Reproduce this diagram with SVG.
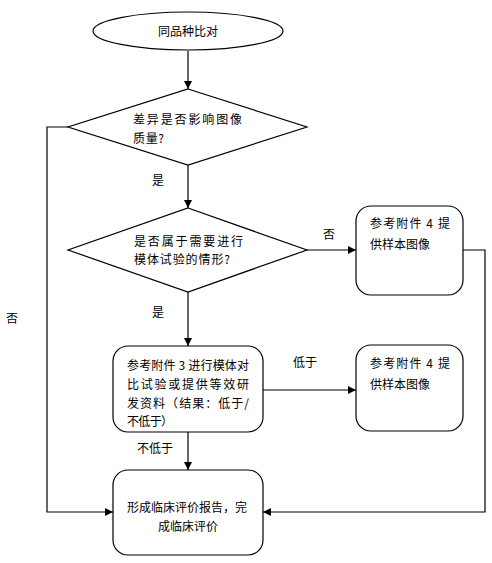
<svg xmlns="http://www.w3.org/2000/svg" width="492" height="563" viewBox="0 0 492 563">
<defs>
<marker id="arr" markerWidth="8" markerHeight="8" refX="8" refY="4" orient="auto" markerUnits="userSpaceOnUse">
<path d="M0,0 L8,4 L0,8 Z" fill="#000"/>
</marker>
</defs>
<style>
.shape{fill:#fff;stroke:#000;stroke-width:1.2}
.line{fill:none;stroke:#000;stroke-width:1.2}
text{font-family:"Noto Sans CJK SC","Liberation Sans",sans-serif;font-size:12px;fill:#000}
</style>
<rect width="492" height="563" fill="#fff"/>
<g id="connectors">
<line class="line" x1="188" y1="51" x2="188" y2="89" marker-end="url(#arr)"/>
<line class="line" x1="188" y1="165" x2="188" y2="208" marker-end="url(#arr)"/>
<line class="line" x1="188" y1="292" x2="188" y2="346" marker-end="url(#arr)"/>
<line class="line" x1="307" y1="250" x2="356" y2="250" marker-end="url(#arr)"/>
<line class="line" x1="263" y1="390" x2="356" y2="390" marker-end="url(#arr)"/>
<line class="line" x1="188" y1="432" x2="188" y2="470" marker-end="url(#arr)"/>
<polyline class="line" points="68,127 47,127 47,512 113,512" marker-end="url(#arr)"/>
<polyline class="line" points="463,250 485,250 485,512 263,512" marker-end="url(#arr)"/>
<text x="152" y="185">是</text>
<text x="152" y="317">是</text>
<text x="323" y="239">否</text>
<text x="293" y="367">低于</text>
<text x="137" y="453">不低于</text>
<text x="6" y="323">否</text>
</g>
<g id="start">
<ellipse class="shape" cx="188" cy="31" rx="95" ry="19"/>
<text x="188" y="36" text-anchor="middle">同品种比对</text>
</g>
<g id="decision1">
<polygon class="shape" points="188,89 307,127 188,165 68,127"/>
<text x="133" y="124" textLength="109" lengthAdjust="spacing">差异是否影响图像</text>
<text x="133" y="143" textLength="31" lengthAdjust="spacing">质量?</text>
</g>
<g id="decision2">
<polygon class="shape" points="188,208 307,250 188,292 68,250"/>
<text x="134" y="246" textLength="109" lengthAdjust="spacing">是否属于需要进行</text>
<text x="134" y="264" textLength="96" lengthAdjust="spacing">模体试验的情形?</text>
</g>
<g id="sample1">
<rect class="shape" x="356" y="206" width="107" height="89" rx="15"/>
<text x="370" y="228" textLength="80" lengthAdjust="spacing">参考附件 4 提</text>
<text x="370" y="249" textLength="60" lengthAdjust="spacing">供样本图像</text>
</g>
<g id="phantom">
<rect class="shape" x="113" y="346" width="150" height="86" rx="15"/>
<text x="127" y="370" textLength="122" lengthAdjust="spacing">参考附件 3 进行模体对</text>
<text x="127" y="389" textLength="122" lengthAdjust="spacing">比试验或提供等效研</text>
<text x="127" y="408" textLength="122" lengthAdjust="spacing">发资料（结果：低于/</text>
<text x="127" y="426" textLength="46" lengthAdjust="spacing">不低于）</text>
</g>
<g id="sample2">
<rect class="shape" x="356" y="345" width="107" height="86" rx="15"/>
<text x="370" y="368" textLength="80" lengthAdjust="spacing">参考附件 4 提</text>
<text x="370" y="389" textLength="60" lengthAdjust="spacing">供样本图像</text>
</g>
<g id="report">
<rect class="shape" x="113" y="470" width="150" height="85" rx="15"/>
<text x="127" y="512">形成临床评价报告，完</text>
<text x="188" y="531" text-anchor="middle">成临床评价</text>
</g>
</svg>
